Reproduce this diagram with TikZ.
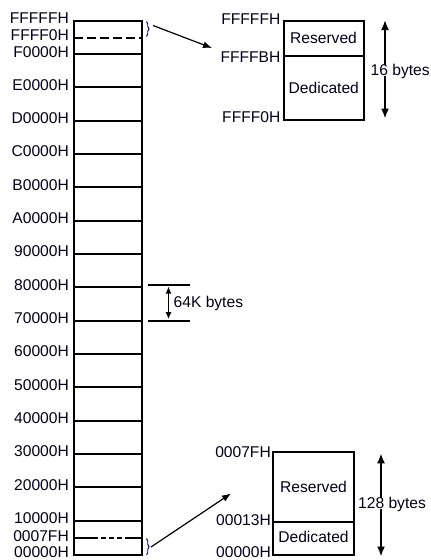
\documentclass[tikz,border=0pt]{standalone}
\usepackage{fontspec}
\setmainfont{Liberation Sans}
\usetikzlibrary{arrows.meta,decorations.pathreplacing}
\begin{document}
\begin{tikzpicture}[x=1pt,y=-1pt,
  box/.style={line width=2.2pt},
  lbl/.style={anchor=east,inner sep=0pt,text height=11pt,text depth=0pt,font=\fontsize{15.6}{16}\selectfont,text=black!90!blue},
  cell/.style={inner sep=0pt,text height=11pt,text depth=0pt,font=\fontsize{15.6}{16}\selectfont,text=black!90!blue},
  dim/.style={line width=1.8pt,{Latex[length=10pt,width=8pt]}-{Latex[length=10pt,width=8pt]}},
  ptr/.style={line width=1.2pt,-{Latex[length=9pt,width=7pt]}},
  brc/.style={decorate,decoration={brace,amplitude=2.5pt},line width=0.9pt,draw=black!60!blue}]
\useasboundingbox (0,0) rectangle (431,560);
% main column
\draw[box] (74,20.7) rectangle (142,555);
\node[lbl] (lFFFFF) at (69,18) {FFFFFH};
\draw[box,dash pattern=on 9pt off 4pt] (74,38) -- (142,38);
\node[lbl] (lFFFF0) at (69,35) {FFFF0H};
\foreach \lab [count=\k from 0] in {F0000H,E0000H,D0000H,C0000H,B0000H,A0000H,90000H,80000H,70000H,60000H,50000H,40000H,30000H,20000H,10000H}{
  \pgfmathsetmacro{\yy}{54+33.33*\k}
  \draw[box] (74,\yy) -- (142,\yy);
  \node[lbl] (l\k) at (69,\yy-2.5) {\lab};
}
\draw[box,dash pattern=on 24pt off 3pt on 5pt off 3pt on 5pt off 3pt on 5pt off 3pt on 40pt] (74,538) -- (142,538);
\node[lbl] (l7F) at (69,535.5) {0007FH};
\node[lbl] (l00) at (69,552) {00000H};
% braces
\draw[brc] (146.5,21.5) -- (146.5,36.5);
\draw[brc] (146.5,538.5) -- (146.5,555);
\coordinate (bt) at (153,25.5);
\coordinate (bb) at (151,547);
% 64K bytes
\draw[box] (148,285) -- (190,285);
\draw[box] (148,320.7) -- (190,320.7);
\draw[line width=1.6pt,{Latex[length=7pt,width=6pt]}-{Latex[length=7pt,width=6pt]}] (168.5,286.5) -- (168.5,319.2);
\node[cell,anchor=west] (k64) at (173.5,302) {64K bytes};
% top-right detail
\draw[box] (284,20.7) rectangle (364,120);
\draw[box] (284,56) -- (364,56);
\node[cell] (res1) at (323.5,38) {Reserved};
\node[cell] (ded1) at (323.8,88) {Dedicated};
\node[lbl] (t1) at (280.5,18.5) {FFFFFH};
\node[lbl] (t2) at (280.5,56.5) {FFFFBH};
\node[lbl] (t3) at (280.5,116.5) {FFFF0H};
\draw[dim] (385,20) -- (385,118.5);
\node[cell,fill=white,anchor=west,inner xsep=0.5pt] (b16) at (370,70) {16 bytes};
\coordinate (at) at (212,48);
\draw[ptr] (bt) -- (at);
% bottom-right detail
\draw[box] (273.3,452.3) rectangle (354.3,555);
\draw[box] (273.3,522.3) -- (354.3,522.3);
\node[cell] (res2) at (313.5,486.7) {Reserved};
\node[cell] (ded2) at (313.5,537) {Dedicated};
\node[lbl] (u1) at (271,452) {0007FH};
\node[lbl] (u2) at (271,519.5) {00013H};
\node[lbl] (u3) at (271,552) {00000H};
\draw[dim] (381,453.3) -- (381,556.5);
\node[cell,fill=white,anchor=west,inner xsep=0.5pt] (b128) at (357.5,503.3) {128 bytes};
\coordinate (ab) at (231,493.5);
\draw[ptr] (bb) -- (ab);
\end{tikzpicture}
\end{document}
